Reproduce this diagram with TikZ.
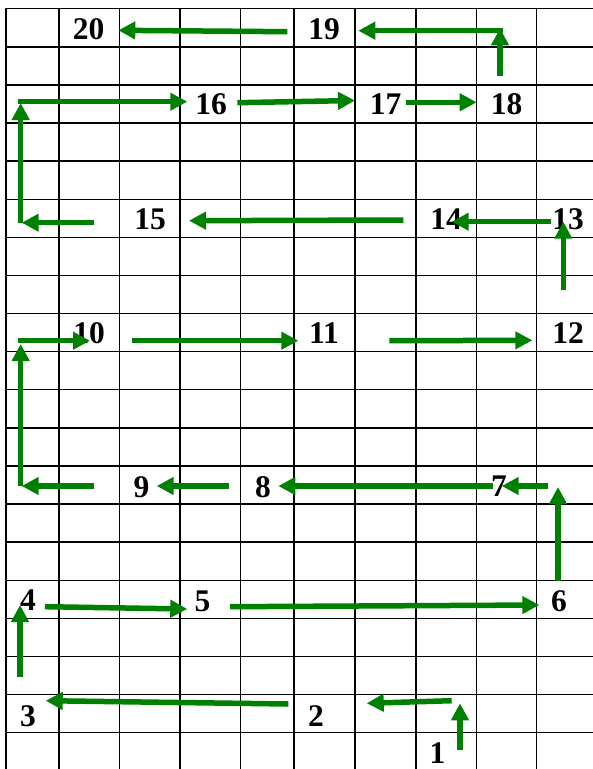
\documentclass[tikz,border=0pt]{standalone}
\usepackage{fontspec}
\setmainfont{Liberation Serif}
\usetikzlibrary{arrows.meta}
\definecolor{arrgreen}{RGB}{0,128,0}
\begin{document}
\begin{tikzpicture}[x=1pt,y=-1pt,
  gridline/.style={black,line width=1.4pt},
  flow/.style={arrgreen,line width=5.5pt,-{Triangle[length=17pt,width=17pt]}},
  num/.style={font=\fontsize{31.5}{34}\selectfont\bfseries,inner sep=0pt,text=black}]
\useasboundingbox (0,0) rectangle (593,769);
\fill[white] (0,0) rectangle (593,769);
% grid
\foreach \x in {6,59,119.5,180,240.7,294,355,416,476.7,536.7}
  \draw[gridline] (\x,8.7) -- (\x,769);
\foreach \k in {0,...,19}
  \draw[gridline] (5.3,{8.7+38.1*\k}) -- (593,{8.7+38.1*\k});
% labels
\node[num] (n1) at (437.5,753) {1};
\node[num] (n2) at (316,716) {2};
\node[num] (n3) at (28,716) {3};
\node[num] (n4) at (28,600) {4};
\node[num] (n5) at (202.5,601) {5};
\node[num] (n6) at (559,601) {6};
\node[num] (n7) at (499,486) {7};
\node[num] (n8) at (263,487) {8};
\node[num] (n9) at (141.5,487) {9};
\node[num] (n10) at (89,333) {10};
\node[num] (n11) at (324,333) {11};
\node[num] (n12) at (568,333) {12};
\node[num] (n13) at (568,219) {13};
\node[num] (n14) at (446,219) {14};
\node[num] (n15) at (150,219) {15};
\node[num] (n16) at (211,104.5) {16};
\node[num] (n17) at (385.5,104) {17};
\node[num] (n18) at (506.7,104) {18};
\node[num] (n19) at (324,29) {19};
\node[num] (n20) at (88.7,29) {20};
% arrow end points
\coordinate (a1s) at (460,750);     \coordinate (a1e) at (460,703.3);
\coordinate (a2s) at (451.7,700.7); \coordinate (a2e) at (366.7,703.3);
\coordinate (a3s) at (288.3,704);   \coordinate (a3e) at (45.7,700.7);
\coordinate (a4s) at (20,676.7);    \coordinate (a4e) at (20,605);
\coordinate (a5s) at (45,606.7);    \coordinate (a5e) at (187.3,609);
\coordinate (a6s) at (230,606.7);   \coordinate (a6e) at (539.3,605);
\coordinate (a7s) at (558,581);     \coordinate (a7e) at (558,487);
\coordinate (a8s) at (548.3,486);   \coordinate (a8e) at (501.7,486);
\coordinate (a9s) at (493.3,486);   \coordinate (a9e) at (278.3,486);
\coordinate (a10s) at (229.3,486);  \coordinate (a10e) at (156.7,486);
\coordinate (a11s) at (94,486);     \coordinate (a11e) at (21.7,486);
\coordinate (a12s) at (20.7,486);   \coordinate (a12e) at (20.7,344);
\coordinate (a13s) at (18,340.7);   \coordinate (a13e) at (90,340.7);
\coordinate (a14s) at (132.3,340.7);\coordinate (a14e) at (298.3,340.7);
\coordinate (a15s) at (389.3,340.7);\coordinate (a15e) at (532.3,340.3);
\coordinate (a16s) at (563.3,290);  \coordinate (a16e) at (563.3,221.7);
\coordinate (a17s) at (551,221.7);  \coordinate (a17e) at (451.7,221.7);
\coordinate (a18s) at (403.3,220);  \coordinate (a18e) at (189,220.7);
\coordinate (a19s) at (94,222.7);   \coordinate (a19e) at (21.7,222.7);
\coordinate (a20s) at (20.7,222.7); \coordinate (a20e) at (20.7,103);
\coordinate (a21s) at (18,101.7);   \coordinate (a21e) at (187.3,101.7);
\coordinate (a22s) at (237.3,102.7);\coordinate (a22e) at (355,100.5);
\coordinate (a23s) at (406,102.3);  \coordinate (a23e) at (476.7,102.3);
\coordinate (a24s) at (500,76);     \coordinate (a24e) at (500,28.3);
\coordinate (a25s) at (502.7,30.7); \coordinate (a25e) at (358.3,30.7);
\coordinate (a26s) at (287.3,31.7); \coordinate (a26e) at (118.3,30.3);
% arrows
\foreach \i in {1,...,26}
  \draw[flow] (a\i s) -- (a\i e);
\end{tikzpicture}
\end{document}
